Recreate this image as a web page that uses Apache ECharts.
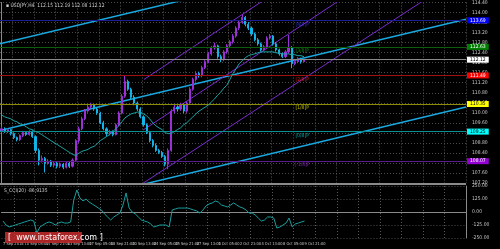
<!DOCTYPE html>
<html><head><meta charset="utf-8">
<script src="https://cdn.jsdelivr.net/npm/echarts/dist/echarts.min.js"></script>
<style>html,body{margin:0;padding:0;background:#000;}#c{width:500px;height:249px;}</style>
</head><body><div id="c"></div>
<script>
// ---- data ----
const chartTitle = 'USDJPY,H4  112.15 112.19 112.08 112.12';
const cciTitle = 'S_CCI(20) -86.9135';
const dateLabels = ['7 Sep 2018','10 Sep 05:00','11 Sep 21:00','13 Sep 13:00','17 Sep 05:00','18 Sep 21:00','20 Sep 13:00','24 Sep 05:00','25 Sep 21:00','27 Sep 13:00','1 Oct 05:00','2 Oct 21:00','4 Oct 13:00','8 Oct 05:00','9 Oct 21:00'];
const futureBars = 52;
const opens = [
109.30,109.36,109.25,109.33,109.17,109.01,108.93,109.09,109.21,109.13,
109.25,109.05,108.50,108.11,108.18,107.99,108.07,107.91,107.99,107.87,
107.95,107.83,107.99,107.87,108.11,108.89,109.36,109.76,110.07,110.23,
110.31,110.15,109.99,109.60,109.36,109.17,109.25,109.13,109.52,109.99,
110.66,111.25,110.94,110.62,110.39,110.15,109.84,109.52,109.21,108.89,
108.70,108.50,108.42,108.26,107.95,108.50,110.07,110.23,110.15,110.31,
110.07,110.39,110.94,111.33,111.57,111.49,111.80,112.04,112.35,112.59,
112.67,112.24,112.12,112.43,112.67,112.83,113.06,113.38,113.61,113.81,
113.53,113.38,113.14,112.91,112.75,112.51,112.63,112.98,113.06,112.75,
112.51,112.35,112.24,112.43,112.59,111.96,112.04,112.16,112.04];
const closes = [
109.36,109.25,109.33,109.17,109.01,108.93,109.09,109.21,109.13,109.25,
109.05,108.50,108.11,108.18,107.99,108.07,107.91,107.99,107.87,107.95,
107.83,107.99,107.87,108.11,108.89,109.36,109.76,110.07,110.23,110.31,
110.15,109.99,109.60,109.36,109.17,109.25,109.13,109.52,109.99,110.66,
111.25,110.94,110.62,110.39,110.15,109.84,109.52,109.21,108.89,108.70,
108.50,108.42,108.26,107.95,108.50,110.07,110.23,110.15,110.31,110.07,
110.39,110.94,111.33,111.57,111.49,111.80,112.04,112.35,112.59,112.67,
112.24,112.12,112.43,112.67,112.83,113.06,113.38,113.61,113.81,113.53,
113.38,113.14,112.91,112.75,112.51,112.63,112.98,113.06,112.75,112.51,
112.35,112.24,112.43,112.59,111.96,112.04,112.16,112.04,112.12];
const highs = [
109.45,109.42,109.38,109.36,109.22,109.05,109.14,109.28,109.24,109.30,
109.30,109.10,108.58,108.30,108.24,108.15,108.12,108.06,108.05,108.02,
108.00,108.07,108.04,108.18,108.95,109.45,109.85,110.15,110.32,110.40,
110.36,110.22,110.04,109.68,109.42,109.32,109.30,109.58,110.06,110.75,
111.49,111.32,111.00,110.70,110.45,110.22,109.90,109.58,109.28,108.95,
108.78,108.56,108.48,108.32,108.58,110.14,110.36,110.30,110.40,110.38,
110.45,111.02,111.40,111.66,111.64,111.88,112.10,112.42,112.66,112.80,
112.72,112.32,112.50,112.74,112.90,113.14,113.45,113.70,113.93,113.86,
113.62,113.44,113.20,112.98,112.80,112.70,113.05,113.14,113.10,112.82,
112.56,112.40,112.50,113.10,112.66,112.12,112.22,112.20,112.18];
const lows = [
109.22,109.20,109.19,109.10,108.95,108.86,108.88,109.03,109.08,109.09,
109.00,108.40,107.90,108.02,107.62,107.93,107.84,107.82,107.78,107.80,
107.75,107.78,107.80,107.82,108.05,108.80,109.30,109.70,110.00,110.18,
110.08,109.92,109.55,109.30,109.05,109.10,109.06,109.10,109.46,109.94,
110.60,110.88,110.55,110.30,110.08,109.78,109.45,109.15,108.82,108.62,
108.44,108.36,108.20,107.86,107.75,108.45,109.98,110.05,110.08,109.98,
110.00,110.33,110.88,111.25,111.40,111.42,111.74,111.98,112.28,112.52,
112.16,112.02,112.06,112.36,112.60,112.76,113.00,113.30,113.55,113.45,
113.30,113.06,112.85,112.68,112.44,112.46,112.58,112.92,112.68,112.44,
112.28,112.18,112.18,112.36,111.78,111.90,111.98,111.96,112.02];
const maValues = [
109.92,109.84,109.80,109.76,109.68,109.64,109.56,109.52,109.44,109.36,
109.33,109.25,109.21,109.13,109.05,108.97,108.89,108.81,108.74,108.66,
108.58,108.50,108.42,108.34,108.30,108.38,108.46,108.50,108.54,108.62,
108.66,108.77,108.89,108.97,109.05,109.13,109.25,109.36,109.48,109.64,
109.80,109.88,109.96,109.99,110.03,110.03,109.96,109.88,109.76,109.60,
109.48,109.40,109.33,109.21,109.17,109.17,109.25,109.33,109.40,109.52,
109.60,109.72,109.84,109.96,110.07,110.15,110.23,110.31,110.43,110.55,
110.70,110.82,110.98,111.10,111.33,111.57,111.76,111.96,112.08,112.20,
112.28,112.32,112.35,112.39,112.43,112.43,112.43,112.43,112.43,112.39,
112.39,112.35,112.35,112.35,112.32,112.32,112.28,112.28,112.24];
const cciValues = [
-87,-125,-144,-135,-125,-115,-106,-96,-87,-77,
-87,-202,-144,-125,-106,-96,-106,-125,-106,-96,
-106,-106,-96,115,212,135,106,125,96,77,
58,38,19,-19,-48,-77,-48,-29,-10,67,
183,38,0,-19,-48,-77,-87,-96,-115,-144,
-135,-125,-125,-125,-144,19,29,38,38,38,
38,29,19,10,-10,19,58,77,87,106,
96,67,58,48,67,87,67,48,38,19,
-10,-10,-29,-58,-87,-77,-48,-48,-58,-154,
-144,-125,-106,-58,-144,-115,-106,-96,-87];
const levelNames = ['[4/8]P','[3/8]P','[2/8]P','[1/8]P','[0/8]P','[-1/8]P'];
const levelValues = [113.69, 112.63, 111.49, 110.35, 109.25, 108.07];
const lastPrice = 112.12;
const cyanLines = [
  [[-0.5, 112.75], [150.5, 117.19]],
  [[-0.5, 109.29], [150.5, 113.73]],
  [[-0.5, 105.78], [150.5, 110.23]]
];
const purpleLines = [
  [[46.16, 111.33], [150.5, 119.83]],
  [[45.84, 109.31], [150.5, 117.82]],
  [[45.84, 107.19], [150.5, 115.58]]
];

// ---- styles ----
const levelLineColors = ['#1c1c96','#0b5c0b','#a01010','#8c8c08','#0a9090','#5a1a90'];
const levelBoxColors = ['#0000ff','#008000','#ff0000','#ffff00','#00ffff','#9400d3'];
const levelTextColors = ['#3a3aff','#1aa01a','#ff2020','#e0e000','#00d0d0','#a030e0'];
const levelBoxText = ['#fff','#fff','#fff','#000','#000','#fff'];
const labelX = 97.4;
const N = closes.length;
const total = N + futureBars;
const cats = [];
for (let i = 0; i < total; i++) {
  cats.push(i % 7 === 0 && (i / 7) < dateLabels.length ? dateLabels[i / 7] : ' ' + i);
}
const candleData = opens.map((o, i) => [o, closes[i], lows[i], highs[i]]);
const gridSplit = { show: true, interval: (i) => i % 7 === 4, lineStyle: { color: '#5a5a5a', type: [1, 2], width: 1 } };
const smallFont = 'Liberation Sans Narrow, DejaVu Sans Condensed, Liberation Sans';

const markData = levelValues.map((v, k) => ({
  yAxis: v,
  lineStyle: { color: levelLineColors[k], width: 1, type: 'solid' },
  label: { show: true, position: 'end', formatter: v.toFixed(2), backgroundColor: levelBoxColors[k], color: levelBoxText[k], fontSize: 5, padding: [1, 3, 0, 3], distance: 1, fontFamily: smallFont }
}));
markData.push({
  yAxis: lastPrice,
  lineStyle: { color: '#8a8a8a', width: 1, type: 'solid' },
  label: { show: true, position: 'end', formatter: lastPrice.toFixed(2), backgroundColor: '#ffffff', color: '#000', fontSize: 5, padding: [1, 3, 0, 3], distance: 1, fontFamily: smallFont }
});

const series = [];
cyanLines.forEach(l => series.push({ type: 'line', xAxisIndex: 1, yAxisIndex: 0, data: l, symbol: 'none', lineStyle: { color: '#1aa8e0', width: 1.5 }, silent: true, animation: false, z: 3 }));
purpleLines.forEach(l => series.push({ type: 'line', xAxisIndex: 1, yAxisIndex: 0, data: l, symbol: 'none', lineStyle: { color: '#7a2ad0', width: 1 }, silent: true, animation: false, z: 3 }));
series.push({
  type: 'candlestick', xAxisIndex: 0, yAxisIndex: 0, data: candleData, barWidth: 1.6, animation: false, z: 4,
  itemStyle: { color: '#9b30d9', color0: '#12b4e8', borderColor: '#9b30d9', borderColor0: '#12b4e8', borderWidth: 1 },
  markLine: { silent: true, symbol: ['none', 'none'], animation: false, data: markData }
});
series.push({ type: 'line', xAxisIndex: 0, yAxisIndex: 0, data: maValues, symbol: 'none', lineStyle: { color: '#1aa6a6', width: 1 }, silent: true, animation: false, z: 5 });
series.push({
  type: 'scatter', xAxisIndex: 1, yAxisIndex: 0, symbolSize: 1, itemStyle: { color: 'rgba(0,0,0,0)' }, animation: false, silent: true, z: 6,
  labelLayout: { hideOverlap: false },
  data: levelValues.map((v, k) => ({ value: [labelX, v], label: { show: true, position: 'bottom', distance: 1, formatter: levelNames[k], color: levelTextColors[k], fontSize: 5, fontFamily: smallFont } }))
});
series.push({ type: 'line', xAxisIndex: 2, yAxisIndex: 1, data: cciValues, symbol: 'none', lineStyle: { color: '#1a9e9e', width: 1 }, silent: true, animation: false });

const chart = echarts.init(document.getElementById('c'), null, { renderer: 'canvas' });
chart.setOption({
  backgroundColor: '#000',
  animation: false,
  grid: [
    { left: 0, top: 0, width: 466, height: 183, show: false },
    { left: 0, top: 186, width: 466, height: 52, show: false }
  ],
  xAxis: [
    { type: 'category', gridIndex: 0, data: cats, boundaryGap: true, axisLine: { show: false }, axisTick: { show: false }, axisLabel: { show: false }, splitLine: gridSplit },
    { type: 'value', gridIndex: 0, min: -0.5, max: 150.5, show: false },
    { type: 'category', gridIndex: 1, data: cats, boundaryGap: true, axisLine: { show: true, lineStyle: { color: '#8a8a8a', width: 1 } }, axisTick: { show: false },
      axisLabel: { show: true, interval: (i, v) => i % 7 === 0 && v.charAt(0) !== ' ', hideOverlap: false, align: 'left', color: '#c8c8c8', fontSize: 4, margin: 4, fontFamily: smallFont }, splitLine: gridSplit }
  ],
  yAxis: [
    { type: 'value', gridIndex: 0, position: 'right', min: 107.2, max: 114.4, interval: 0.4,
      axisLine: { show: true, lineStyle: { color: '#8a8a8a' } }, axisTick: { show: false },
      axisLabel: { color: '#c8c8c8', fontSize: 5, margin: 6, formatter: v => v.toFixed(2), fontFamily: smallFont },
      splitLine: { show: true, lineStyle: { color: '#4a4a4a', type: [1, 2] } } },
    { type: 'value', gridIndex: 1, position: 'right', min: -250, max: 250, interval: 125,
      axisLine: { show: true, lineStyle: { color: '#8a8a8a' } }, axisTick: { show: false },
      axisLabel: { color: '#c8c8c8', fontSize: 5, margin: 6, formatter: v => v.toFixed(2), fontFamily: smallFont },
      splitLine: { show: true, lineStyle: { color: '#4a4a4a', type: [1, 2] } } }
  ],
  graphic: [
    { type: 'rect', left: 0, top: 183, shape: { width: 466, height: 2 }, style: { fill: '#8a8a8a' }, z: 10 },
    { type: 'text', left: 6, top: 3, style: { text: '\u25AA ' + chartTitle, fill: '#d0d0d0', fontSize: 5, fontFamily: smallFont }, z: 10 },
    { type: 'text', left: 4, top: 188, style: { text: cciTitle, fill: '#d0d0d0', fontSize: 5, fontFamily: smallFont }, z: 10 },
    { type: 'rect', left: 5, top: 232, shape: { width: 77, height: 11 }, style: { fill: 'rgba(200,45,45,0.85)' }, z: 10 },
    { type: 'text', left: 8, top: 233.5, style: { text: '[  www.instaforex.com ]', fill: '#ffffff', fontSize: 8, fontFamily: 'DejaVu Sans' }, z: 11 }
  ],
  series: series
});
</script></body></html>
